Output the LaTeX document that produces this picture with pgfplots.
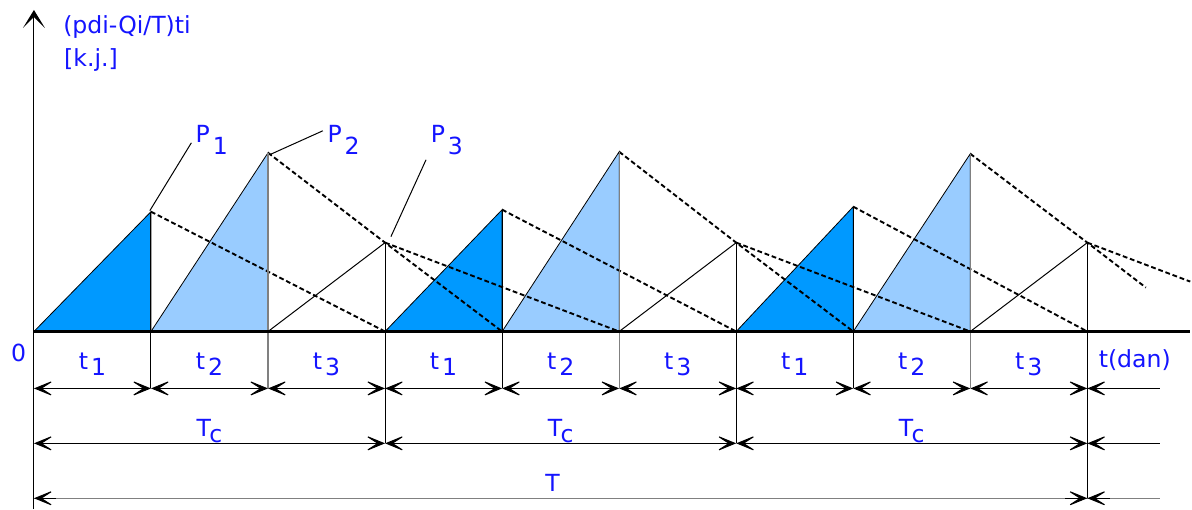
\documentclass[border=0pt]{standalone}
\usepackage{pgfplots}
\pgfplotsset{compat=1.18}
\usetikzlibrary{arrows.meta}
\usepackage{fontspec}
\setmainfont{DejaVu Sans}
\definecolor{darkb}{RGB}{0,153,255}
\definecolor{lightb}{RGB}{153,204,255}
\definecolor{txt}{RGB}{20,20,255}
\definecolor{edgegray}{RGB}{128,128,128}
\tikzset{
  lbl/.style={text=txt,font=\fontsize{11.8pt}{13pt}\selectfont,inner sep=0pt},
  dimarr/.style={black,line width=0.5pt,{Stealth[length=11pt,width=9pt,inset=7pt]}-{Stealth[length=11pt,width=9pt,inset=7pt]}},
  dimleft/.style={black,line width=0.5pt,{Stealth[length=11pt,width=9pt,inset=7pt]}-},
  dimright/.style={black,line width=0.5pt,-{Stealth[length=11pt,width=9pt,inset=7pt]}},
  dashl/.style={black,line width=0.95pt,dash pattern=on 2.4pt off 1.4pt},
  thinl/.style={black,line width=0.5pt},
}
\begin{document}
\begin{tikzpicture}
\begin{axis}[width=596pt,height=255pt,scale only axis,axis lines=none,
  xmin=-0.290,xmax=9.879,ymin=-178,ymax=332,clip=false]
% ---- invisible frame fixing the picture extent
\addplot[draw=none] coordinates {(-0.290,-178) (9.879,332)};
% ---- filled triangles (t1 dark, t2 light) and t3 outline
\addplot[fill=darkb,draw=black,line width=0.4pt] coordinates {(0,0) (1,120) (1,0) (0,0)};
\addplot[fill=lightb,draw=black,line width=0.4pt] coordinates {(1,0) (2,179) (2,0) (1,0)};
\addplot[fill=darkb,draw=black,line width=0.4pt] coordinates {(3,0) (4,122) (4,0) (3,0)};
\addplot[fill=lightb,draw=black,line width=0.4pt] coordinates {(4,0) (5,180) (5,0) (4,0)};
\addplot[fill=darkb,draw=black,line width=0.4pt] coordinates {(6,0) (7,125) (7,0) (6,0)};
\addplot[fill=lightb,draw=black,line width=0.4pt] coordinates {(7,0) (8,178) (8,0) (7,0)};
\addplot[thinl] coordinates {(2,0) (3,89)};
\addplot[thinl] coordinates {(5,0) (6,89)};
\addplot[thinl] coordinates {(8,0) (9,89)};
% ---- dashed decay lines
\addplot[dashl] coordinates {(1,120) (3,0)};
\addplot[dashl] coordinates {(2,179) (3,89) (4,0)};
\addplot[dashl] coordinates {(3,89) (5,0)};
\addplot[dashl] coordinates {(4,122) (6,0)};
\addplot[dashl] coordinates {(5,180) (6,89) (7,0)};
\addplot[dashl] coordinates {(6,89) (8,0)};
\addplot[dashl] coordinates {(7,125) (9,0)};
\addplot[dashl] coordinates {(8,178) (9,89) (9.50,44)};
\addplot[dashl] coordinates {(9,89) (9.879,50)};
% ---- vertical lines
\addplot[thinl] coordinates {(1,120) (1,-57)};
\addplot[edgegray,line width=0.6pt] coordinates {(2,179) (2,-57)};
\addplot[thinl] coordinates {(3,89) (3,-112)};
\addplot[thinl] coordinates {(4,122) (4,-57)};
\addplot[edgegray,line width=0.6pt] coordinates {(5,180) (5,-57)};
\addplot[thinl] coordinates {(6,89) (6,-112)};
\addplot[thinl] coordinates {(7,125) (7,-57)};
\addplot[edgegray,line width=0.6pt] coordinates {(8,178) (8,-57)};
\addplot[thinl] coordinates {(9,89) (9,-167)};
% ---- y axis with arrow
\addplot[black,line width=0.5pt,-{Stealth[length=9pt,width=11pt,inset=5.5pt]}] coordinates {(0,-178) (0,322)};
% ---- base line
\addplot[black,line width=1.8pt] coordinates {(0,0) (9.879,0)};
% ---- dimension rows
\addplot[dimarr] coordinates {(0,-57) (1,-57)};
\addplot[dimarr] coordinates {(1,-57) (2,-57)};
\addplot[dimarr] coordinates {(2,-57) (3,-57)};
\addplot[dimarr] coordinates {(3,-57) (4,-57)};
\addplot[dimarr] coordinates {(4,-57) (5,-57)};
\addplot[dimarr] coordinates {(5,-57) (6,-57)};
\addplot[dimarr] coordinates {(6,-57) (7,-57)};
\addplot[dimarr] coordinates {(7,-57) (8,-57)};
\addplot[dimarr] coordinates {(8,-57) (9,-57)};
\addplot[dimleft] coordinates {(9,-57) (9.62,-57)};
\addplot[dimarr] coordinates {(0,-112) (3,-112)};
\addplot[dimarr] coordinates {(3,-112) (6,-112)};
\addplot[dimarr] coordinates {(6,-112) (9,-112)};
\addplot[dimleft] coordinates {(9,-112) (9.62,-112)};
\addplot[gray,line width=0.5pt] coordinates {(0,-167) (9.62,-167)};
\addplot[dimleft] coordinates {(0,-167) (0.19,-167)};
\addplot[dimright] coordinates {(8.81,-167) (9,-167)};
\addplot[dimleft] coordinates {(9,-167) (9.19,-167)};
% ---- leader lines for P labels
\addplot[thinl] coordinates {(0.99,121) (1.345,189)};
\addplot[thinl] coordinates {(2.013,177) (2.468,201)};
\addplot[thinl] coordinates {(3.05,95) (3.35,172)};
% ---- labels
\node[lbl,anchor=base west] at (axis cs:0.247,298) {(pdi-Qi/T)ti};
\node[lbl,anchor=base west] at (axis cs:0.255,265) {[k.j.]};
\node[lbl,anchor=base west] at (axis cs:1.379,189) {P\kern1.5pt\raisebox{-6pt}{1}};
\node[lbl,anchor=base west] at (axis cs:2.505,189) {P\kern1.5pt\raisebox{-6pt}{2}};
\node[lbl,anchor=base west] at (axis cs:3.387,189) {P\kern1.5pt\raisebox{-6pt}{3}};
\node[lbl,anchor=base] at (axis cs:-0.13,-30) {0};
\node[lbl,anchor=base] at (axis cs:0.5,-38) {t\kern1.5pt\raisebox{-3pt}{1}};
\node[lbl,anchor=base] at (axis cs:1.5,-38) {t\kern1.5pt\raisebox{-3pt}{2}};
\node[lbl,anchor=base] at (axis cs:2.5,-38) {t\kern1.5pt\raisebox{-3pt}{3}};
\node[lbl,anchor=base] at (axis cs:3.5,-38) {t\kern1.5pt\raisebox{-3pt}{1}};
\node[lbl,anchor=base] at (axis cs:4.5,-38) {t\kern1.5pt\raisebox{-3pt}{2}};
\node[lbl,anchor=base] at (axis cs:5.5,-38) {t\kern1.5pt\raisebox{-3pt}{3}};
\node[lbl,anchor=base] at (axis cs:6.5,-38) {t\kern1.5pt\raisebox{-3pt}{1}};
\node[lbl,anchor=base] at (axis cs:7.5,-38) {t\kern1.5pt\raisebox{-3pt}{2}};
\node[lbl,anchor=base] at (axis cs:8.5,-38) {t\kern1.5pt\raisebox{-3pt}{3}};
\node[lbl,anchor=base] at (axis cs:9.405,-36) {t(dan)};
\node[lbl,anchor=base] at (axis cs:1.5,-104.7) {T\kern-0.8pt\raisebox{-3pt}{c}};
\node[lbl,anchor=base] at (axis cs:4.5,-104.7) {T\kern-0.8pt\raisebox{-3pt}{c}};
\node[lbl,anchor=base] at (axis cs:7.5,-104.7) {T\kern-0.8pt\raisebox{-3pt}{c}};
\node[lbl,anchor=base] at (axis cs:4.43,-160.7) {T};
\end{axis}
\end{tikzpicture}
\end{document}
